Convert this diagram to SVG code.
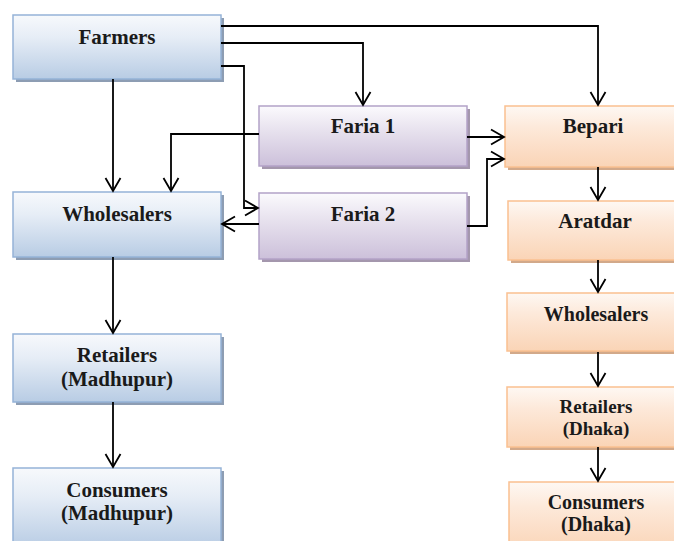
<svg xmlns="http://www.w3.org/2000/svg" width="674" height="541" viewBox="0 0 674 541">
  <defs>
    <linearGradient id="gBlue" x1="0" y1="0" x2="0" y2="1">
      <stop offset="0" stop-color="#f7f9fc"/>
      <stop offset="0.35" stop-color="#e6edf6"/>
      <stop offset="1" stop-color="#b8cce4"/>
    </linearGradient>
    <linearGradient id="gPurple" x1="0" y1="0" x2="0" y2="1">
      <stop offset="0" stop-color="#fbfafd"/>
      <stop offset="0.35" stop-color="#eae5f0"/>
      <stop offset="1" stop-color="#ccc0da"/>
    </linearGradient>
    <linearGradient id="gOrange" x1="0" y1="0" x2="0" y2="1">
      <stop offset="0" stop-color="#fef8f3"/>
      <stop offset="0.35" stop-color="#fde9da"/>
      <stop offset="1" stop-color="#fad4b6"/>
    </linearGradient>
    <marker id="arrow" markerUnits="userSpaceOnUse" markerWidth="14" markerHeight="16" refX="13" refY="7.5" orient="auto" overflow="visible">
      <path d="M0,0 L13,7.5 L0,15" fill="none" stroke="#000" stroke-width="1.8"/>
    </marker>
  </defs>
  <style>
    .blue rect.box { fill: url(#gBlue); stroke: #95b3d7; stroke-width: 1.5; }
    .blue rect.sh { fill: #8d9db3; }
    .purple rect.box { fill: url(#gPurple); stroke: #b3a2c7; stroke-width: 1.5; }
    .purple rect.sh { fill: #a497ad; }
    .orange rect.box { fill: url(#gOrange); stroke: #fac090; stroke-width: 1.5; }
    .orange rect.sh { fill: #d2a98a; }
    text { font-family: "Liberation Serif", "Times New Roman", serif; font-weight: bold; font-size: 21px; fill: #1a1a1a; text-anchor: middle; }
    text.md { font-size: 20px; }
    text.sm { font-size: 19px; }
    #connectors path { fill: none; stroke: #000; stroke-width: 1.8; marker-end: url(#arrow); }
  </style>

  <rect width="674" height="541" fill="#ffffff"/>

  <!-- left chain -->
  <g id="farmers" class="blue">
    <rect class="sh" x="16" y="18" width="208" height="64"/>
    <rect class="box" x="13" y="15" width="208" height="64"/>
    <text x="117" y="44">Farmers</text>
  </g>
  <g id="wholesalers-madhupur" class="blue">
    <rect class="sh" x="16" y="195" width="208" height="65"/>
    <rect class="box" x="13" y="192" width="208" height="65"/>
    <text x="117" y="221">Wholesalers</text>
  </g>
  <g id="retailers-madhupur" class="blue">
    <rect class="sh" x="16" y="337" width="208" height="68"/>
    <rect class="box" x="13" y="334" width="208" height="68"/>
    <text x="117" y="362">Retailers</text>
    <text x="117" y="386">(Madhupur)</text>
  </g>
  <g id="consumers-madhupur" class="blue">
    <rect class="sh" x="16" y="471" width="208" height="80"/>
    <rect class="box" x="13" y="468" width="208" height="80"/>
    <text x="117" y="497">Consumers</text>
    <text x="117" y="520">(Madhupur)</text>
  </g>

  <!-- middlemen -->
  <g id="faria1" class="purple">
    <rect class="sh" x="262" y="109" width="208" height="60"/>
    <rect class="box" x="259" y="106" width="208" height="60"/>
    <text x="363" y="133">Faria 1</text>
  </g>
  <g id="faria2" class="purple">
    <rect class="sh" x="262" y="196" width="208" height="66"/>
    <rect class="box" x="259" y="193" width="208" height="66"/>
    <text x="363" y="221">Faria 2</text>
  </g>

  <!-- right chain -->
  <g id="bepari" class="orange">
    <rect class="sh" x="508" y="109" width="176" height="61"/>
    <rect class="box" x="505" y="106" width="176" height="61"/>
    <text x="593" y="133">Bepari</text>
  </g>
  <g id="aratdar" class="orange">
    <rect class="sh" x="511" y="204" width="176" height="59"/>
    <rect class="box" x="508" y="201" width="176" height="59"/>
    <text x="595" y="228">Aratdar</text>
  </g>
  <g id="wholesalers-dhaka" class="orange">
    <rect class="sh" x="510" y="296" width="176" height="58"/>
    <rect class="box" x="507" y="293" width="176" height="58"/>
    <text x="596" y="321" class="md">Wholesalers</text>
  </g>
  <g id="retailers-dhaka" class="orange">
    <rect class="sh" x="510" y="390" width="176" height="60"/>
    <rect class="box" x="507" y="387" width="176" height="60"/>
    <text x="596" y="413" class="sm">Retailers</text>
    <text x="596" y="435" class="sm">(Dhaka)</text>
  </g>
  <g id="consumers-dhaka" class="orange">
    <rect class="sh" x="512" y="485" width="176" height="70"/>
    <rect class="box" x="509" y="482" width="176" height="70"/>
    <text x="596" y="509" class="md">Consumers</text>
    <text x="596" y="531" class="md">(Dhaka)</text>
  </g>

  <g id="connectors">
    <path d="M221,26 H598 V105"/>
    <path d="M221,43 H363 V105"/>
    <path d="M221,66 H244 V208 H258"/>
    <path d="M113,79 V191"/>
    <path d="M259,134 H171 V191"/>
    <path d="M467,137 H504"/>
    <path d="M259,224 H222"/>
    <path d="M467,226 H487 V159 H504"/>
    <path d="M598,167 V200"/>
    <path d="M598,260 V292"/>
    <path d="M598,352 V386"/>
    <path d="M598,447 V481"/>
    <path d="M113,257 V333"/>
    <path d="M113,402 V467"/>
  </g>
</svg>
